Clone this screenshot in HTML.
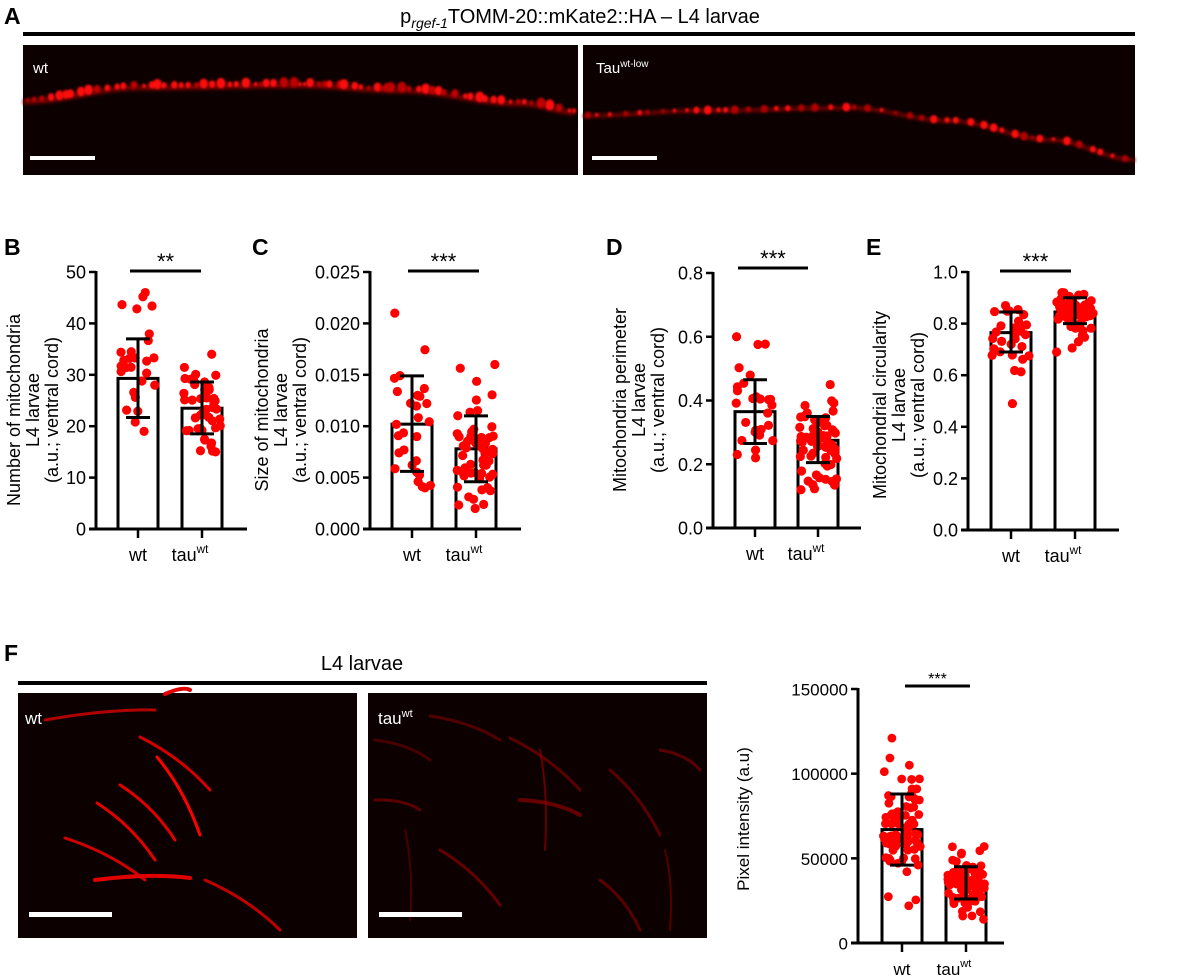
<!DOCTYPE html><html><head><meta charset="utf-8"><style>
body{margin:0;background:#fff}
svg{display:block;font-family:"Liberation Sans",Arial,sans-serif}
</style></head><body>
<svg id="s" width="1200" height="980" xmlns="http://www.w3.org/2000/svg">
<defs>
<filter id="bl" x="-20%" y="-20%" width="140%" height="140%"><feGaussianBlur stdDeviation="1.6"/></filter>
<filter id="bl2" x="-50%" y="-50%" width="200%" height="200%"><feGaussianBlur stdDeviation="1"/></filter>
</defs>
<g font-weight="bold" font-size="23">
<text x="4" y="24">A</text><text x="4" y="255">B</text><text x="252" y="255">C</text>
<text x="606" y="255">D</text><text x="866" y="255">E</text><text x="4" y="661">F</text></g>
<text x="580" y="23" font-size="20" text-anchor="middle">p<tspan font-style="italic" font-size="14" dy="5">rgef-1</tspan><tspan dy="-5">TOMM-20::mKate2::HA – L4 larvae</tspan></text>
<rect x="23" y="32" width="1112" height="4" fill="#000"/>
<rect x="23" y="45" width="555" height="130" fill="#0c0000"/>
<rect x="583" y="45" width="552" height="130" fill="#0c0000"/>
<g id="mA"></g>
<text x="33" y="73" font-size="15" fill="#fff">wt</text>
<text x="596" y="73" font-size="15" fill="#fff">Tau<tspan font-size="10" dy="-6">wt-low</tspan></text>
<rect x="30" y="156" width="65" height="4" fill="#fff"/>
<rect x="592" y="156" width="65" height="4" fill="#fff"/>

<text x="362" y="670" font-size="20" text-anchor="middle">L4 larvae</text>
<rect x="18" y="681" width="689" height="4" fill="#000"/>
<rect x="18" y="693" width="339" height="245" fill="#0c0000"/>
<rect x="368" y="693" width="339" height="245" fill="#0c0000"/>
<g id="mF"></g>
<text x="25" y="724" font-size="17" fill="#fff">wt</text>
<text x="378" y="724" font-size="17" fill="#fff">tau<tspan font-size="11" dy="-7">wt</tspan></text>
<rect x="29" y="912" width="83" height="5" fill="#fff"/>
<rect x="379" y="912" width="83" height="5" fill="#fff"/>
<g id="charts"></g>
</svg>
<script>
var NS="http://www.w3.org/2000/svg";
function el(p,t,a,txt){var e=document.createElementNS(NS,t);for(var k in a)e.setAttribute(k,a[k]);if(txt!=null)e.textContent=txt;p.appendChild(e);return e;}
var seed=7;function rnd(){seed=(seed*16807)%2147483647;return (seed-1)/2147483646;}
function gauss(){return Math.sqrt(-2*Math.log(rnd()+1e-9))*Math.cos(2*Math.PI*rnd());}
function interp(pts){return function(x){for(var i=0;i<pts.length-1;i++){if(x<=pts[i+1][0]){var t=(x-pts[i][0])/(pts[i+1][0]-pts[i][0]);var s=(1-Math.cos(Math.PI*t))/2;return pts[i][1]+(pts[i+1][1]-pts[i][1])*s;}}return pts[pts.length-1][1];};}
var g=document.getElementById("mA");
var curveA1=interp([[23,102],[140,88],[300,86],[400,91],[520,104],[578,113]]);
var curveA2=interp([[583,116],[700,111],[850,108],[950,121],[1050,140],[1135,160]]);
function pathOf(f,a,b){var s="M"+a+" "+f(a);for(var x=a+6;x<=b;x+=6)s+=" L"+x+" "+f(x);return s;}
el(g,"path",{d:pathOf(curveA1,23,578),stroke:"#6a0000",fill:"none","stroke-width":5,filter:"url(#bl)"});
el(g,"path",{d:pathOf(curveA2,583,1135),stroke:"#6a0000",fill:"none","stroke-width":4,filter:"url(#bl)"});
for(var x=28;x<575;x+=4+rnd()*7){var r=rnd();el(g,"ellipse",{cx:x,cy:curveA1(x)-2-r*2,rx:1.8+r*3,ry:2+r*3.5,fill:rnd()<0.7?"#ff1010":"#c00000",filter:"url(#bl2)"});}
for(var x=588;x<1132;x+=7+rnd()*9){var r=rnd();el(g,"ellipse",{cx:x,cy:curveA2(x)-1,rx:1.5+r*2.5,ry:1.5+r*3,fill:rnd()<0.6?"#ff1010":"#b00000",filter:"url(#bl2)"});}
var gf=document.getElementById("mF");
var wormsW=[[165,694,190,690,0.9,"#e00000",4],[45,720,155,710,0.9,"#b00000",3],[140,737,210,790,0.9,"#d00000",3],[157,757,200,835,0.9,"#ff0000",3],[120,785,175,840,0.9,"#e00000",3],[97,803,155,860,0.9,"#e00000",3],[65,838,145,880,0.9,"#d00000",3],[95,880,190,878,0.9,"#e00000",4],[205,880,280,930,0.9,"#c00000",3]];
var wormsT=[[375,740,430,760,0.5,"#700000",3],[430,716,500,740,0.5,"#800000",3],[510,738,580,790,0.5,"#900000",3],[540,750,545,850,0.5,"#a00000",2],[520,800,580,815,0.5,"#a00000",4],[375,800,420,810,0.5,"#900000",3],[610,770,660,835,0.5,"#900000",3],[440,850,500,905,0.5,"#a00000",3],[405,830,410,920,0.5,"#700000",2],[600,880,640,930,0.5,"#900000",3],[660,750,700,770,0.5,"#900000",3],[665,850,670,930,0.5,"#800000",2]];
wormsW.concat(wormsT).forEach(function(w){el(gf,"path",{d:"M"+w[0]+" "+w[1]+" Q"+((w[0]+w[2])/2+6)+" "+((w[1]+w[3])/2-6)+" "+w[2]+" "+w[3],stroke:w[5],"stroke-width":w[6],fill:"none","stroke-linecap":"round",opacity:w[4]+0.1});});
var C=document.getElementById("charts");
function chart(o){
 var ax=o.ax,top=o.top,bot=o.bot,ymax=o.ymax;
 function Y(v){return bot-(v/ymax)*(bot-top);}
 for(var i=0;i<o.ticks.length;i++){var v=o.ticks[i],y=Y(v);el(C,"line",{x1:ax-7,x2:ax,y1:y,y2:y,stroke:"#000","stroke-width":2.5});
  el(C,"text",{x:ax-10,y:y+6.5,"font-size":o.fs||18,"text-anchor":"end"},o.lab[i]);}
 el(C,"line",{x1:ax,x2:ax,y1:top-1,y2:bot+1.5,stroke:"#000","stroke-width":3});
 el(C,"line",{x1:ax-7,x2:o.axEnd,y1:bot,y2:bot,stroke:"#000","stroke-width":3});
 o.groups.forEach(function(gr,gi){
  var cx=gr.cx;
  el(C,"rect",{x:cx-20,y:Y(gr.mean),width:40,height:bot-Y(gr.mean),fill:"#fff",stroke:"#000","stroke-width":3});
  el(C,"line",{x1:cx,x2:cx,y1:bot,y2:bot+9,stroke:"#000","stroke-width":2.5});
  var sd=(gr.hi-gr.lo)/2;
  for(var k=0;k<gr.n;k++){var v;var tries=0;do{v=gr.mean+gauss()*sd;tries++;}while((v<gr.min||v>gr.max)&&tries<50);
   if(k==0)v=gr.max;if(k==1)v=gr.min;
   var dx=(rnd()-0.5)*2*(gr.w||19);
   el(C,"circle",{cx:cx+dx,cy:Y(v),r:gr.r||4.6,fill:"#ff0000"});}
  var t=Y(gr.hi),b=Y(gr.lo);
  el(C,"line",{x1:cx,x2:cx,y1:t,y2:b,stroke:"#000","stroke-width":3});
  el(C,"line",{x1:cx-12,x2:cx+12,y1:t,y2:t,stroke:"#000","stroke-width":3});
  el(C,"line",{x1:cx-12,x2:cx+12,y1:b,y2:b,stroke:"#000","stroke-width":3});
  var tx=el(C,"text",{x:cx+(gi?-12:0),y:bot+32,"font-size":o.xfs||18,"text-anchor":"middle"},gi?"tau":"wt");
  if(gi){el(tx,"tspan",{"font-size":(o.xfs||18)*0.65,dy:-8},"wt");}
 });
 el(C,"line",{x1:o.sig[0],x2:o.sig[1],y1:o.sig[2],y2:o.sig[2],stroke:"#000","stroke-width":3});
 el(C,"text",{x:(o.sig[0]+o.sig[1])/2,y:o.sig[2]-2,"font-size":o.sfs||22,"text-anchor":"middle"},o.stars);
 var tl=el(C,"text",{transform:"translate("+o.yl[0]+","+o.yl[1]+") rotate(-90)","font-size":o.yfs||18,"text-anchor":"middle"});
 o.ylab.forEach(function(s,i){el(tl,"tspan",{x:0,dy:i?19:0},s);});
}
chart({ax:96,top:272,bot:529,ymax:50,ticks:[0,10,20,30,40,50],lab:["0","10","20","30","40","50"],axEnd:247,
 groups:[{cx:138,mean:29.3,lo:21.7,hi:37,n:28,min:19,max:46},{cx:202,mean:23.5,lo:18.5,hi:28.6,n:50,min:15,max:34}],
 sig:[130,201,271],stars:"**",yl:[20,410],ylab:["Number of mitochondria","L4 larvae","(a.u.; ventral cord)"]});
chart({ax:370,top:272,bot:529,ymax:0.025,ticks:[0,0.005,0.01,0.015,0.02,0.025],lab:["0.000","0.005","0.010","0.015","0.020","0.025"],axEnd:521,
 groups:[{cx:412,mean:0.0102,lo:0.0056,hi:0.0149,n:28,min:0.004,max:0.021},{cx:476,mean:0.0078,lo:0.0046,hi:0.011,n:56,min:0.002,max:0.016}],
 sig:[408,479,271],stars:"***",yl:[268,410],ylab:["Size of mitochondria","L4 larvae","(a.u.; ventral cord)"]});
chart({ax:713,top:273,bot:528,ymax:0.8,ticks:[0,0.2,0.4,0.6,0.8],lab:["0.0","0.2","0.4","0.6","0.8"],axEnd:861,
 groups:[{cx:755,mean:0.365,lo:0.265,hi:0.465,n:28,min:0.22,max:0.6},{cx:818,mean:0.275,lo:0.205,hi:0.35,n:62,min:0.12,max:0.45}],
 sig:[738,808,268],stars:"***",yl:[626,400],ylab:["Mitochondria perimeter","L4 larvae","(a.u.; ventral cord)"]});
chart({ax:968,top:272,bot:530,ymax:1.0,ticks:[0,0.2,0.4,0.6,0.8,1.0],lab:["0.0","0.2","0.4","0.6","0.8","1.0"],axEnd:1119,
 groups:[{cx:1011,mean:0.765,lo:0.69,hi:0.845,n:30,min:0.49,max:0.87},{cx:1075,mean:0.845,lo:0.80,hi:0.90,n:62,min:0.69,max:0.92}],
 sig:[1000,1071,271],stars:"***",yl:[886,405],ylab:["Mitochondrial circularity","L4 larvae","(a.u.; ventral cord)"]});
chart({ax:858,top:689,bot:943,ymax:150000,ticks:[0,50000,100000,150000],lab:["0","50000","100000","150000"],axEnd:1004,fs:17,xfs:17,sfs:16,
 groups:[{cx:902,mean:67000,lo:46000,hi:88000,n:80,min:22000,max:121000,r:4.4},{cx:966,mean:35000,lo:26000,hi:45000,n:80,min:14000,max:57000,r:4.4}],
 sig:[905,970,686],stars:"***",yl:[749,819],yfs:17,ylab:["Pixel intensity (a.u)"]});
</script>
</body></html>
